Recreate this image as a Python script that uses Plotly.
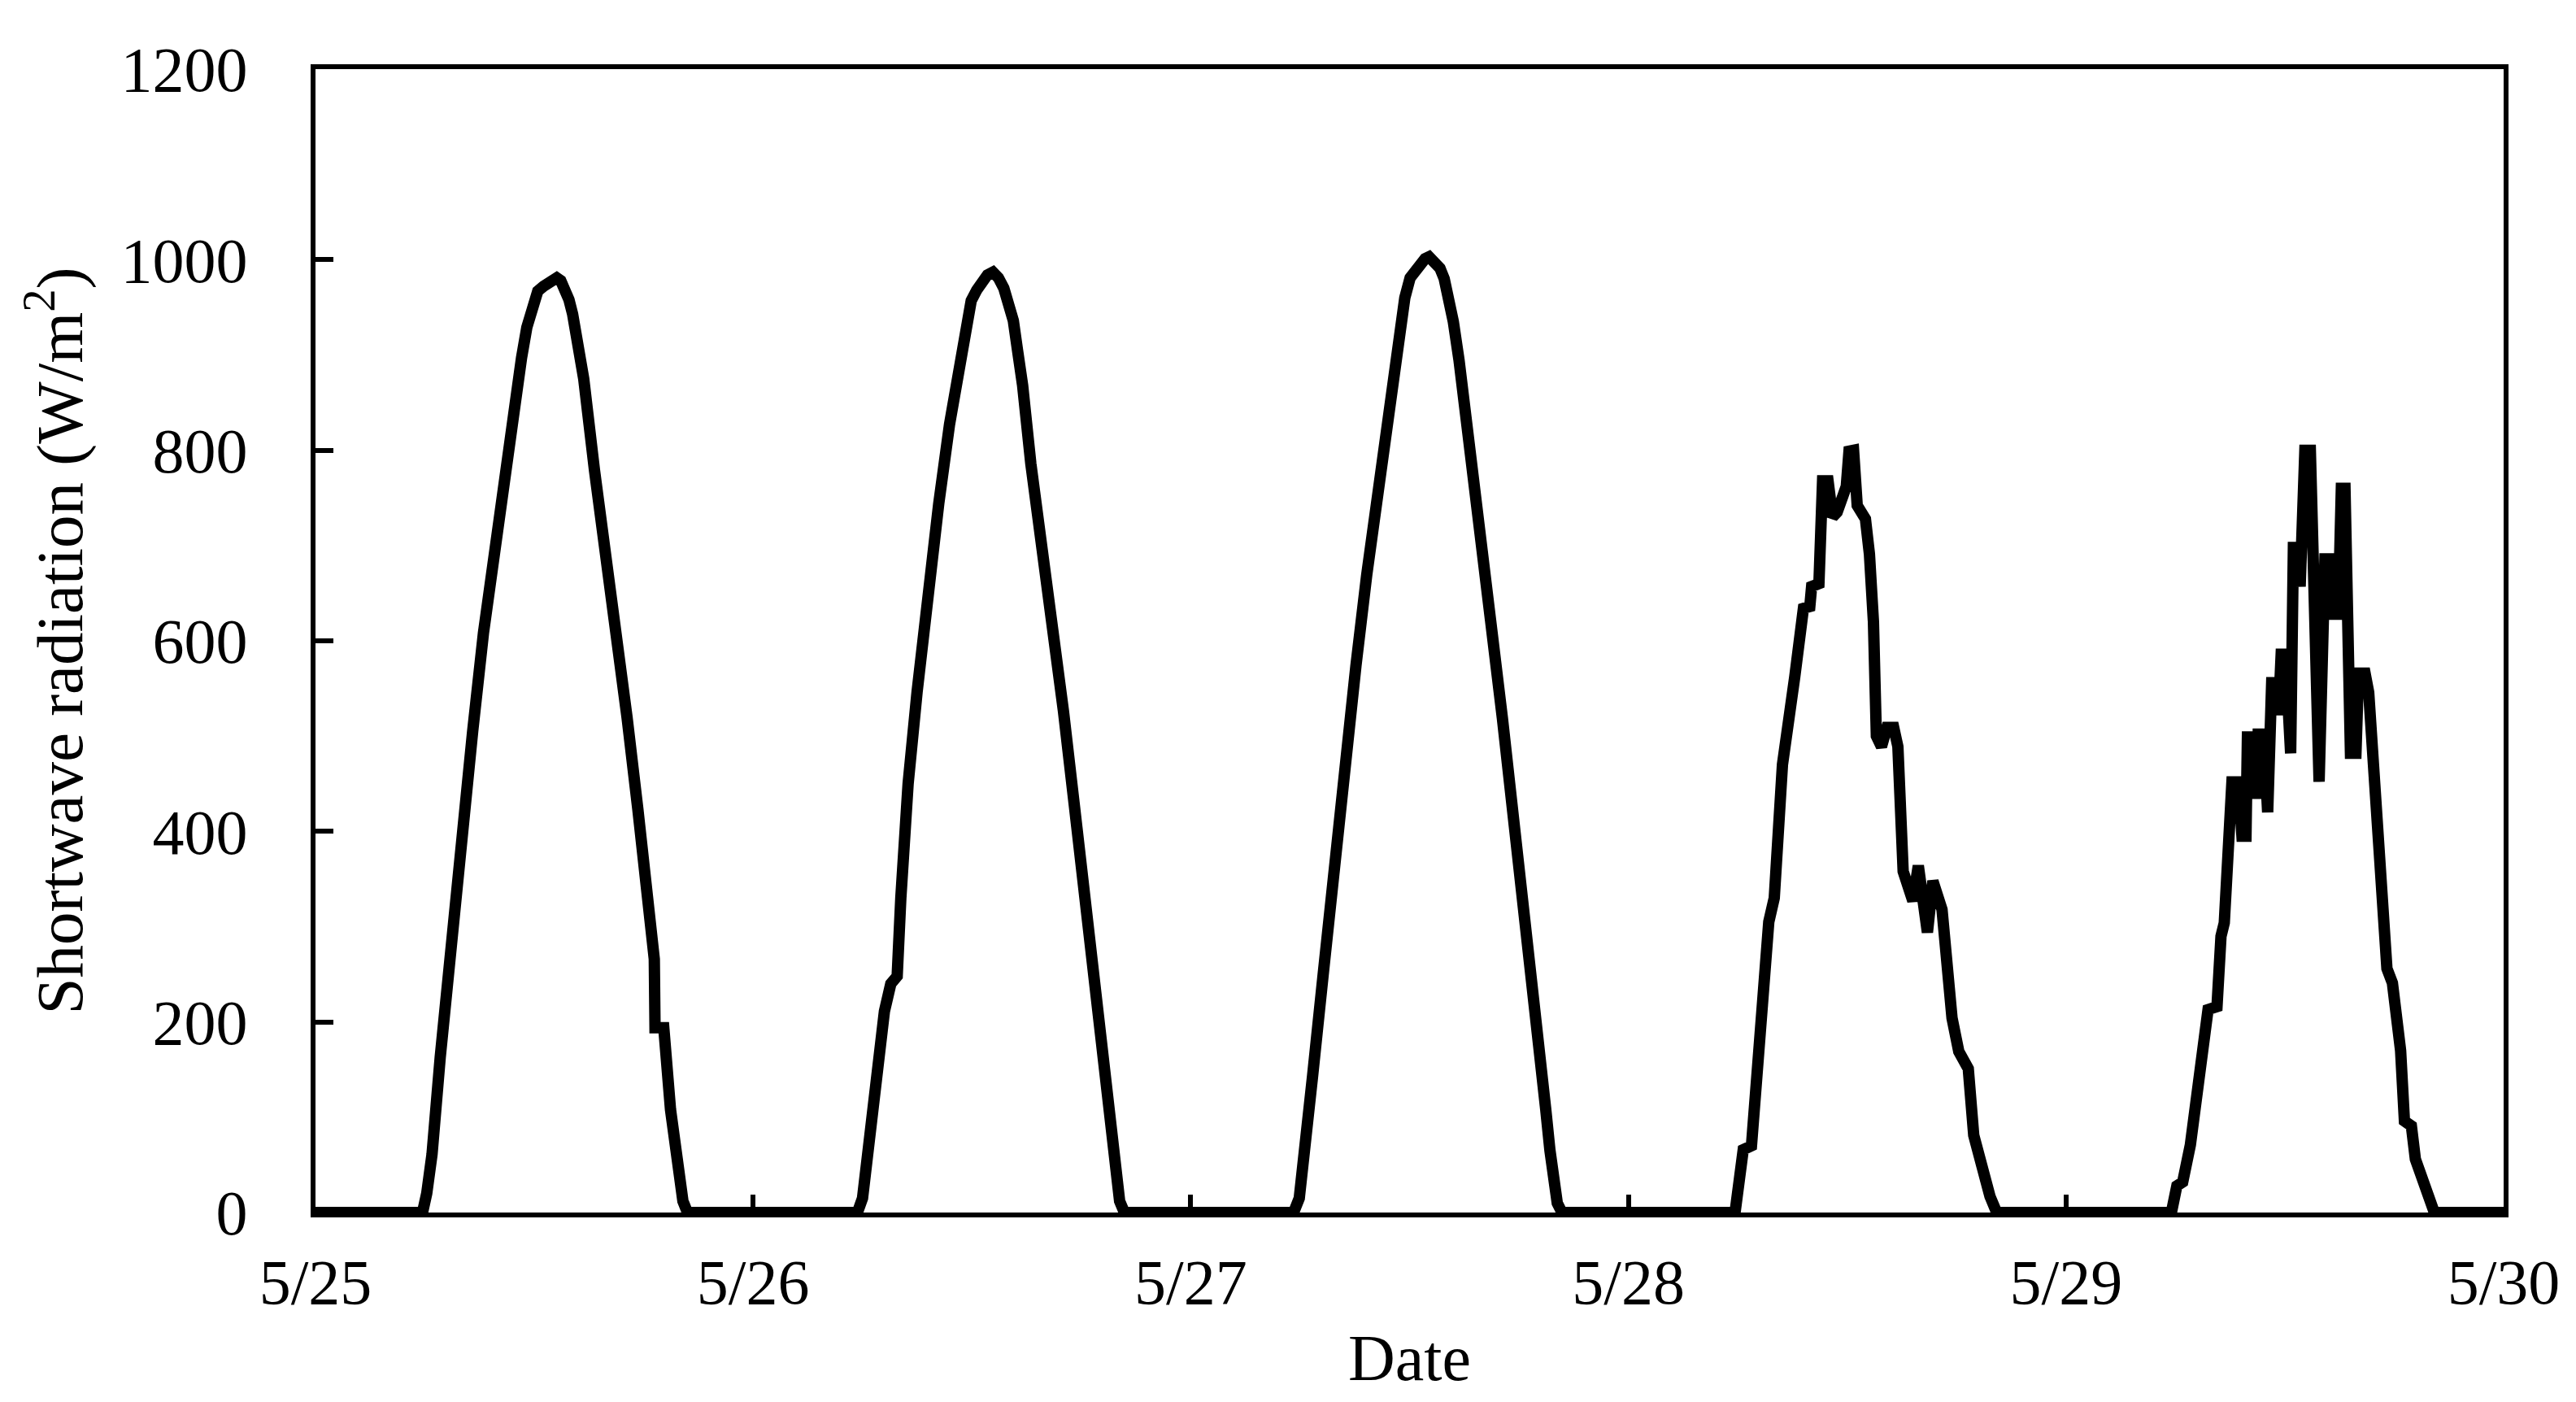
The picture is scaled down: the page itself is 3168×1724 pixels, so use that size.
import plotly.graph_objects as go
import pandas as pd

# Day boundaries and tick labels
day_dates = ["2000-05-25", "2000-05-26", "2000-05-27", "2000-05-28", "2000-05-29", "2000-05-30"]
tick_labels = ["5/25", "5/26", "5/27", "5/28", "5/29", "5/30"]

# Hour of day (h) and shortwave radiation (W/m2) for each day
hours_0525 = [5.87, 6.1, 6.39, 6.84, 7.43, 8.02, 8.62, 9.21, 9.81, 10.4, 11.0, 11.3, 11.59, 11.9, 12.19, 12.5, 12.78,
              13.0, 13.23, 13.45, 13.67, 13.9, 14.1, 14.4, 14.71, 15.3, 15.9, 16.5, 17.09, 17.68, 18.28, 18.58, 18.62,
              19.1, 19.47, 19.7, 19.9, 20.15, 20.4]
rad_0525 = [0, 20, 61, 163, 287, 396, 505, 608, 696, 779, 861, 897, 929, 952, 967, 972, 975,
            979, 981, 978, 970, 958, 943, 912, 875, 779, 696, 614, 519, 423, 328, 266, 194,
            194, 108, 66, 40, 12, 0]

hours_0526 = [5.72, 6.0, 6.25, 6.76, 7.2, 7.55, 7.9, 8.1, 8.5, 8.99, 9.58, 10.18, 10.77, 11.37, 11.67, 11.96,
              12.26, 12.56, 12.85, 13.15, 13.45, 13.75, 14.0, 14.27, 14.5, 14.78, 15.23, 15.83, 16.42, 17.02, 17.6,
              18.2, 18.8, 19.4, 19.64, 19.84, 20.1, 20.36]
rad_0526 = [0, 15, 54, 136, 211, 240, 248, 330, 450, 546, 649, 744, 827, 902, 933, 957,
            968, 977, 984, 987, 981, 970, 955, 936, 905, 868, 786, 703, 621, 526, 430,
            328, 224, 122, 75, 40, 12, 0]

hours_0527 = [5.64, 5.95, 6.24, 6.68, 7.28, 7.87, 8.46, 9.06, 9.65, 10.25, 10.84, 11.14, 11.44, 11.74, 12.03,
              12.4, 12.63, 12.85, 13.07, 13.37, 13.67, 13.9, 14.11, 14.4, 14.71, 15.3, 15.9, 16.49, 17.09, 17.68,
              18.28, 18.87, 19.47, 19.7, 19.91, 20.1, 20.36]
rad_0527 = [0, 15, 61, 143, 253, 369, 471, 574, 669, 758, 841, 887, 929, 960, 981,
            990, 998, 1001, 1003, 998, 991, 980, 964, 935, 895, 793, 696, 614, 519, 423,
            321, 211, 108, 65, 33, 10, 0]

hours_0528 = [5.85, 6.3, 6.75, 7.35, 7.7, 8.0, 8.45, 9.13, 9.6, 9.95, 10.05, 10.45, 10.65, 10.95, 11.2,
              11.45, 11.7, 11.95, 12.1, 12.35, 12.55, 13.0, 13.22, 13.44, 13.6, 13.88, 14.18, 14.55, 14.78, 15.07,
              15.6, 15.9, 16.4, 16.7, 17.2, 17.45, 17.75, 18.12, 18.64, 18.94, 19.39, 19.83, 20.2]
rad_0528 = [0, 66, 70, 218, 305, 330, 470, 563, 634, 636, 657, 660, 768, 768, 730,
            735, 751, 762, 799, 800, 742, 728, 691, 620, 500, 489, 509, 509, 489, 358,
            327, 364, 294, 348, 318, 256, 204, 169, 151, 81, 43, 17, 0]

hours_0529 = [5.78, 6.08, 6.4, 6.82, 7.2, 7.42, 7.79, 8.28, 8.35, 8.5, 8.68, 8.83, 9.1, 9.45, 9.65,
              9.87, 9.95, 10.17, 10.24, 10.46, 10.54, 10.84, 10.91, 11.06, 11.28, 11.58, 11.65, 11.8, 12.03, 12.17,
              12.32, 12.47, 12.7, 12.84, 13.1, 13.4, 13.6, 13.88, 14.2, 14.5, 14.57, 14.93, 15.1, 15.3, 15.6,
              15.9, 16.04, 16.4, 16.6, 17.0, 17.23, 17.45, 17.6, 17.9, 18.12, 18.35, 18.56, 18.94, 19.16, 19.6,
              20.05, 20.2]
rad_0529 = [0, 28, 32, 71, 128, 170, 213, 216, 270, 290, 304, 370, 452, 452, 395,
            395, 499, 499, 440, 440, 502, 502, 420, 420, 556, 556, 522, 586, 586, 482,
            482, 698, 698, 657, 800, 800, 640, 452, 686, 686, 628, 628, 760, 760, 482,
            482, 566, 566, 546, 412, 355, 298, 256, 241, 213, 170, 96, 91, 56, 34,
            5, 0]

day_hours = [hours_0525, hours_0526, hours_0527, hours_0528, hours_0529]
day_rad = [rad_0525, rad_0526, rad_0527, rad_0528, rad_0529]

# Assemble time series
x_vals = [pd.Timestamp(day_dates[0])]
y_vals = [0]
for d, (hs, vs) in enumerate(zip(day_hours, day_rad)):
    base = pd.Timestamp(day_dates[d])
    for h, v in zip(hs, vs):
        x_vals.append(base + pd.Timedelta(hours=h))
        y_vals.append(v)
x_vals.append(pd.Timestamp(day_dates[-1]))
y_vals.append(0)

FONT = "Liberation Serif, Times New Roman, serif"

fig = go.Figure()
fig.add_trace(go.Scatter(
    x=x_vals, y=y_vals, mode="lines",
    line=dict(color="black", width=14),
    cliponaxis=False, showlegend=False,
))

axis_common = dict(
    showline=True, linecolor="black", linewidth=6, mirror=True,
    ticks="inside", ticklen=22, tickwidth=6, tickcolor="black",
    showgrid=False, zeroline=False,
    tickfont=dict(family=FONT, size=78, color="black"),
)

fig.update_layout(
    width=3168, height=1724,
    margin=dict(l=380, r=97, t=77, b=241),
    paper_bgcolor="white", plot_bgcolor="white",
    font=dict(family=FONT, color="black"),
    xaxis=dict(
        type="date",
        range=[day_dates[0], day_dates[-1]],
        tickvals=day_dates, ticktext=tick_labels,
        ticklabelstandoff=12,
        title=dict(text="Date", font=dict(family=FONT, size=80, color="black"), standoff=24),
        **axis_common,
    ),
    yaxis=dict(
        range=[0, 1200], tickmode="linear", tick0=0, dtick=200,
        ticklabelstandoff=62,
        title=dict(text="Shortwave radiation (W/m<sup>2</sup>)",
                   font=dict(family=FONT, size=81, color="black"), standoff=22),
        **axis_common,
    ),
)

fig.write_html("out.html")
